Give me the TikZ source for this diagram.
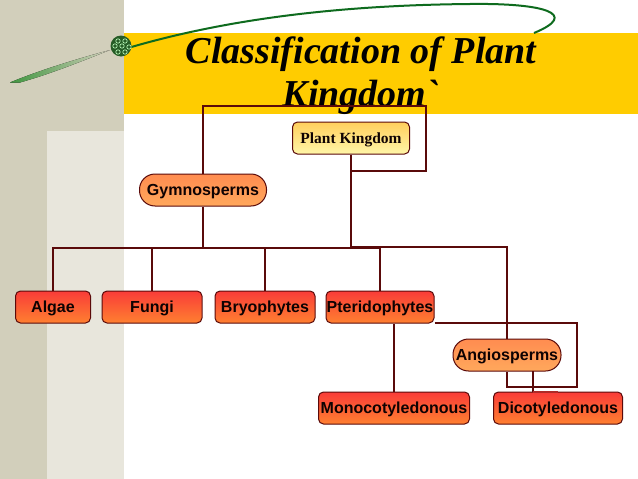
\documentclass[tikz,border=0pt]{standalone}
\usepackage{fontspec}
\setmainfont{Liberation Sans}
\newfontfamily\serifbox{Liberation Serif}
\usetikzlibrary{calc}
\definecolor{bandA}{HTML}{D2CFBB}
\definecolor{bandB}{HTML}{E8E6DC}
\definecolor{gold}{HTML}{FFCC00}
\definecolor{edgeC}{HTML}{5A0A0A}
\definecolor{leaf}{HTML}{0E6B1E}
\definecolor{redT}{HTML}{F93C38}
\definecolor{redB}{HTML}{FF8030}
\definecolor{pillT}{HTML}{FF8C50}
\definecolor{pillB}{HTML}{FFA85C}
\definecolor{rootT}{HTML}{FFCF5C}
\definecolor{rootB}{HTML}{FFF6A8}
\tikzset{
  base/.style={draw=edgeC,line width=1pt,inner sep=0pt,text=black!85!edgeC,text height=11pt,text depth=0pt,font=\fontsize{16}{18}\selectfont\bfseries},
  redbox/.style={base,rounded corners=5pt,minimum height=32pt,top color=redT,bottom color=redB},
  pill/.style={base,rounded corners=15.5pt,minimum height=32pt,top color=pillT,bottom color=pillB},
  rootbox/.style={base,rounded corners=5pt,minimum height=32pt,top color=rootT,bottom color=rootB,font=\fontsize{15.5}{18}\selectfont\serifbox\bfseries},
  link/.style={draw=edgeC,line width=1.8pt},
  titlefont/.style={font=\fontsize{38}{43}\selectfont\serifbox\bfseries\itshape,text=black,align=center,inner sep=0pt}
}
\begin{document}
\begin{tikzpicture}[x=1pt,y=-1pt]
\useasboundingbox (0,0) rectangle (638,479);
\fill[white] (0,0) rectangle (638,479);
% backdrop
\fill[bandA] (0,0) rectangle (124,479);
\fill[bandB] (47,131) rectangle (124,479);
\fill[gold] (124,33) rectangle (638,114);
% swoosh
\fill[left color=green!45!black!75!white,right color=bandA] (10,82.5) .. controls (40,70) and (80,58) .. (110,50) .. controls (80,62) and (50,74) .. (20,82.5) -- cycle;
\draw[leaf,line width=2pt] (128,48) .. controls (240,15) and (360,5) .. (470,4) .. controls (545,3) and (580,14) .. (534,33);
\fill[green!30!black!70!gray] (121,46) circle (10.5);
\foreach \a/\b in {118/41,125/41,115/46,122/46,129/47,118/52,125/52}
  \draw[white!75!green,line width=0.6pt] (\a,\b) circle (2.2);
% title
\node[titlefont] (title) at (361,76) {Classification of Plant\\Kingdom`};
% nodes
\node[rootbox,minimum width=117pt] (root) at (351,138) {Plant Kingdom};
\node[pill,minimum width=127pt] (gym) at (203,190) {Gymnosperms};
\node[redbox,minimum width=75pt] (algae) at (53,307) {Algae};
\node[redbox,minimum width=100pt] (fungi) at (152,307) {Fungi};
\node[redbox,minimum width=100pt] (bryo) at (265,307) {Bryophytes};
\node[redbox,minimum width=108pt] (pter) at (380,307) {Pteridophytes};
\node[pill,minimum width=108pt] (angio) at (507,355) {Angiosperms};
\node[redbox,minimum width=151pt] (mono) at (394,408) {Monocotyledonous};
\node[redbox,minimum width=129pt] (dico) at (558,408) {Dicotyledonous};
% connectors
\coordinate (loopA) at (203,106);
\coordinate (loopB) at (426,106);
\coordinate (loopC) at (426,171);
\coordinate (busY) at (203,248);
\coordinate (rootMid) at (351,171);
\coordinate (rootBus) at (351,247);
\coordinate (angBus) at (507,247);
\coordinate (pterA) at (577,323);
\coordinate (pterB) at (577,387);
\coordinate (pterC) at (507,387);
\coordinate (angDrop) at (533,371);
\coordinate (dicoTop) at (533,392);
\coordinate (dicoMid) at (558,392);
\draw[link] (gym.north) -- (loopA) -- (loopB) -- (loopC) -- (rootMid);
\draw[link] (root.south) -- (rootBus) -- (angBus) -- (angio.north);
\draw[link] (gym.south) -- (busY);
\draw[link] (algae.north) |- (busY) -| (pter.north);
\draw[link] (fungi.north) -- (fungi.north |- busY);
\draw[link] (bryo.north) -- (bryo.north |- busY);
\draw[link] (pter.south east |- pterA) -- (pterA) -- (pterB) -- (pterC) -- (angio.south);
\draw[link] (mono.north) -- (mono.north |- pter.south);
\draw[link] (angDrop) -- (dicoTop);
\draw[draw=redT!70!black,line width=1.2pt] (dicoTop) -- (dicoMid);
\end{tikzpicture}
\end{document}
